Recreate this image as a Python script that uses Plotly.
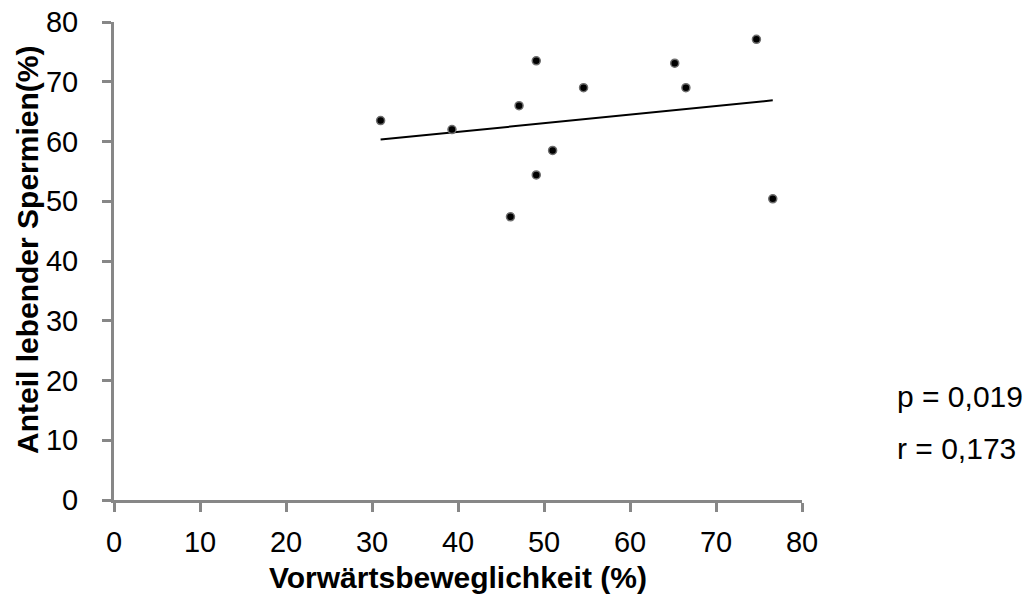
import numpy as np
import plotly.graph_objects as go

# Data
motility = [31.0, 39.3, 47.1, 49.1, 54.6, 51.0, 49.1, 46.1, 65.2, 66.5, 74.7, 76.6]
live_sperm = [63.5, 62.0, 66.0, 73.5, 69.0, 58.5, 54.4, 47.4, 73.1, 69.0, 77.1, 50.4]
tick_vals = [0, 10, 20, 30, 40, 50, 60, 70, 80]
x_title = "Vorwärtsbeweglichkeit (%)"
y_title = "Anteil lebender Spermien(%)"
stats_text = ["p = 0,019", "r = 0,173"]

FONT = "Arial, Liberation Sans, sans-serif"

# Linear regression line
slope, intercept = np.polyfit(motility, live_sperm, 1)
x_line = np.array([min(motility), max(motility)])
y_line = slope * x_line + intercept

fig = go.Figure()
fig.add_trace(go.Scatter(
    x=x_line, y=y_line, mode="lines",
    line=dict(color="black", width=2), showlegend=False, hoverinfo="skip"))
fig.add_trace(go.Scatter(
    x=motility, y=live_sperm, mode="markers",
    marker=dict(color="black", size=8, line=dict(color="#6e6e6e", width=1.5)),
    showlegend=False))

axis_common = dict(
    showgrid=False, zeroline=False, showline=True, linecolor="#878787", linewidth=3,
    ticks="outside", ticklen=9, tickwidth=3, tickcolor="#878787",
    tickfont=dict(family=FONT, size=29, color="black"),
    tickvals=tick_vals, range=[0, 80], ticklabeloverflow="allow", automargin=False,
)
fig.update_xaxes(**axis_common, ticklabelstandoff=5)
fig.update_yaxes(**axis_common, ticklabelstandoff=18)

fig.update_layout(
    width=1033, height=601,
    margin=dict(l=114, r=231, t=22, b=101, autoexpand=False),
    plot_bgcolor="white", paper_bgcolor="white",
    font=dict(family=FONT, color="black"),
)

fig.add_annotation(text="<b>" + x_title + "</b>", xref="paper", yref="paper", x=0.5, y=0,
                   yshift=-77, showarrow=False, xanchor="center", yanchor="middle",
                   font=dict(size=30, color="black", family=FONT))
fig.add_annotation(text="<b>" + y_title + "</b>", xref="paper", yref="paper",
                   x=0, y=0.5, xshift=-87, yshift=11, textangle=-90, showarrow=False,
                   xanchor="center", yanchor="middle",
                   font=dict(size=30, color="black", family=FONT))
for i, t in enumerate(stats_text):
    fig.add_annotation(text=t, xref="paper", yref="paper", x=1, y=0, xshift=93,
                       yshift=104 - i * 52, showarrow=False, xanchor="left", yanchor="middle",
                       font=dict(size=30, color="black", family=FONT))

fig.write_html("out.html", config={"displayModeBar": False},
               post_script="document.body.style.margin='0';document.body.style.overflow='hidden';")
